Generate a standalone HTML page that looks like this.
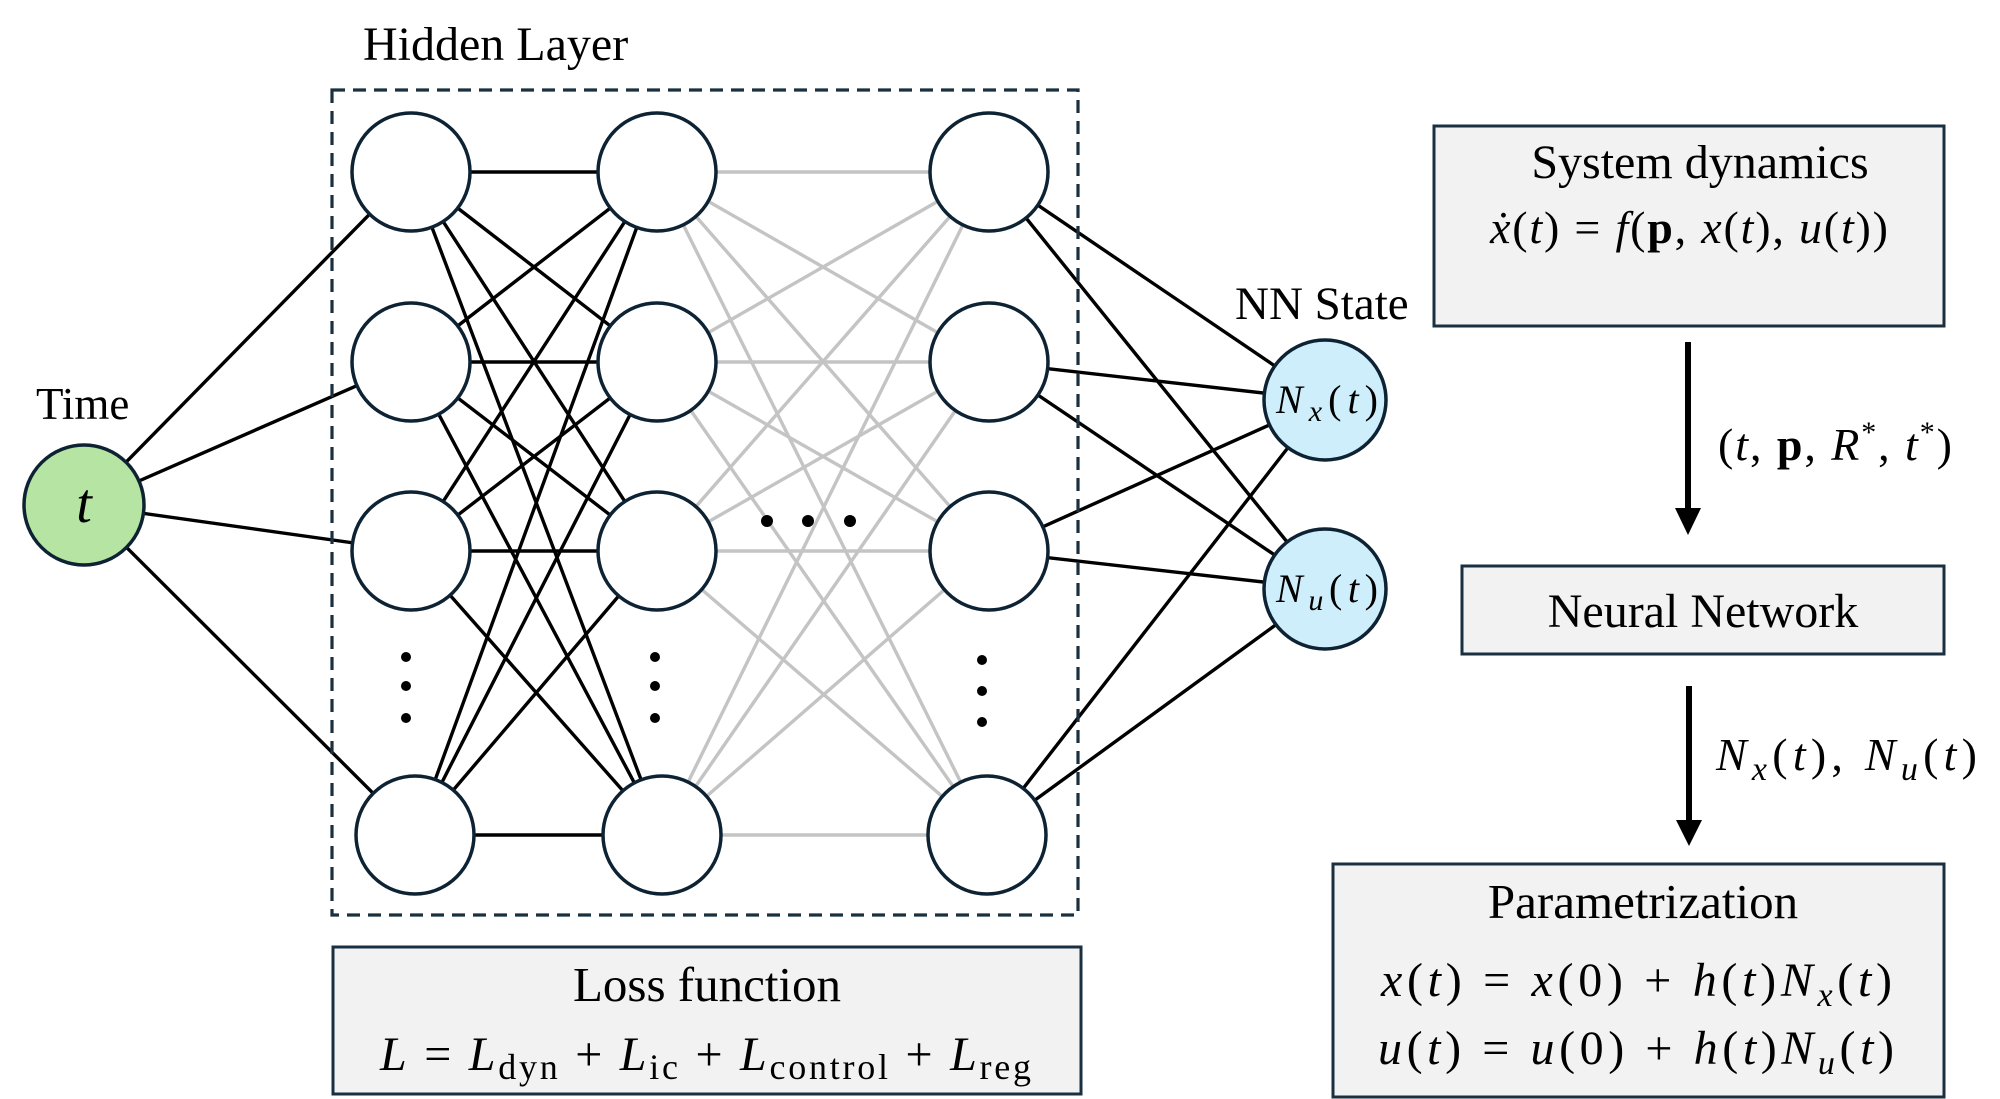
<!DOCTYPE html>
<html><head><meta charset="utf-8"><style>
html,body{margin:0;padding:0;background:#fff;}
svg{display:block;}
text{font-family:"Liberation Serif","DejaVu Serif",serif;fill:#000;}
.it{font-style:italic;}
</style></head><body>
<svg width="2000" height="1099" viewBox="0 0 2000 1099" xmlns="http://www.w3.org/2000/svg">
<g id="lines" stroke-width="3.4" stroke-linecap="round">
<g stroke="#000">
<line x1="84" y1="505" x2="411" y2="172"/><line x1="84" y1="505" x2="411" y2="362"/>
<line x1="84" y1="505" x2="411" y2="551"/><line x1="84" y1="505" x2="415" y2="835"/>
</g>
<g stroke="#000">
<line x1="411" y1="172" x2="657" y2="172"/><line x1="411" y1="172" x2="657" y2="362"/><line x1="411" y1="172" x2="657" y2="551"/><line x1="411" y1="172" x2="662" y2="835"/>
<line x1="411" y1="362" x2="657" y2="172"/><line x1="411" y1="362" x2="657" y2="362"/><line x1="411" y1="362" x2="657" y2="551"/><line x1="411" y1="362" x2="662" y2="835"/>
<line x1="411" y1="551" x2="657" y2="172"/><line x1="411" y1="551" x2="657" y2="362"/><line x1="411" y1="551" x2="657" y2="551"/><line x1="411" y1="551" x2="662" y2="835"/>
<line x1="415" y1="835" x2="657" y2="172"/><line x1="415" y1="835" x2="657" y2="362"/><line x1="415" y1="835" x2="657" y2="551"/><line x1="415" y1="835" x2="662" y2="835"/>
</g>
<g stroke="#c4c4c4">
<line x1="657" y1="172" x2="989" y2="172"/><line x1="657" y1="172" x2="989" y2="362"/><line x1="657" y1="172" x2="989" y2="551"/><line x1="657" y1="172" x2="987" y2="835"/>
<line x1="657" y1="362" x2="989" y2="172"/><line x1="657" y1="362" x2="989" y2="362"/><line x1="657" y1="362" x2="989" y2="551"/><line x1="657" y1="362" x2="987" y2="835"/>
<line x1="657" y1="551" x2="989" y2="172"/><line x1="657" y1="551" x2="989" y2="362"/><line x1="657" y1="551" x2="989" y2="551"/><line x1="657" y1="551" x2="987" y2="835"/>
<line x1="662" y1="835" x2="989" y2="172"/><line x1="662" y1="835" x2="989" y2="362"/><line x1="662" y1="835" x2="989" y2="551"/><line x1="662" y1="835" x2="987" y2="835"/>
</g>
<g stroke="#000">
<line x1="989" y1="172" x2="1325" y2="400"/><line x1="989" y1="172" x2="1325" y2="589"/>
<line x1="989" y1="362" x2="1325" y2="400"/><line x1="989" y1="362" x2="1325" y2="589"/>
<line x1="989" y1="551" x2="1325" y2="400"/><line x1="989" y1="551" x2="1325" y2="589"/>
<line x1="987" y1="835" x2="1325" y2="400"/><line x1="987" y1="835" x2="1325" y2="589"/>
</g>
</g>
<rect x="332" y="90" width="746" height="825" fill="none" stroke="#1a3040" stroke-width="3.2" stroke-dasharray="13,8"/>
<text x="363" y="60" font-size="48">Hidden Layer</text>
<g fill="#fff" stroke="#0d2233" stroke-width="3.5">
<circle cx="411" cy="172" r="59"/><circle cx="411" cy="362" r="59"/><circle cx="411" cy="551" r="59"/><circle cx="415" cy="835" r="59"/>
<circle cx="657" cy="172" r="59"/><circle cx="657" cy="362" r="59"/><circle cx="657" cy="551" r="59"/><circle cx="662" cy="835" r="59"/>
<circle cx="989" cy="172" r="59"/><circle cx="989" cy="362" r="59"/><circle cx="989" cy="551" r="59"/><circle cx="987" cy="835" r="59"/>
</g>
<circle cx="84" cy="505" r="60" fill="#b5e4a3" stroke="#0d2233" stroke-width="3.5"/>
<text x="84" y="522" font-size="56" class="it" text-anchor="middle">t</text>
<text x="36" y="419" font-size="45">Time</text>
<ellipse cx="1325" cy="400" rx="61" ry="60" fill="#cdeefa" stroke="#0d2233" stroke-width="3.5"/>
<ellipse cx="1325" cy="589" rx="61" ry="60" fill="#cdeefa" stroke="#0d2233" stroke-width="3.5"/>
<text x="1276" y="413" font-size="40" textLength="102" lengthAdjust="spacing"><tspan class="it">N</tspan><tspan class="it" font-size="30" dy="8">x</tspan><tspan dy="-8">(</tspan><tspan class="it">t</tspan>)</text>
<text x="1276" y="602" font-size="40" textLength="102" lengthAdjust="spacing"><tspan class="it">N</tspan><tspan class="it" font-size="30" dy="8">u</tspan><tspan dy="-8">(</tspan><tspan class="it">t</tspan>)</text>
<text x="1235" y="319" font-size="47">NN State</text>
<g fill="#000">
<circle cx="406" cy="657" r="5"/><circle cx="406" cy="686" r="5"/><circle cx="406" cy="718" r="5"/>
<circle cx="655" cy="657" r="5"/><circle cx="655" cy="686" r="5"/><circle cx="655" cy="718" r="5"/>
<circle cx="982" cy="660" r="5"/><circle cx="982" cy="691" r="5"/><circle cx="982" cy="722" r="5"/>
<circle cx="767" cy="521" r="6"/><circle cx="808" cy="521" r="6"/><circle cx="850" cy="521" r="6"/>
</g>
<rect x="333" y="947" width="748" height="147" fill="#f2f2f2" stroke="#1a3040" stroke-width="3"/>
<text x="707" y="1001" font-size="49" text-anchor="middle">Loss function</text>
<text x="380" y="1070" font-size="48" textLength="651" lengthAdjust="spacing"><tspan class="it">L</tspan> = <tspan class="it">L</tspan><tspan font-size="36" dy="9">dyn</tspan><tspan dy="-9"> + </tspan><tspan class="it">L</tspan><tspan font-size="36" dy="9">ic</tspan><tspan dy="-9"> + </tspan><tspan class="it">L</tspan><tspan font-size="36" dy="9">control</tspan><tspan dy="-9"> + </tspan><tspan class="it">L</tspan><tspan font-size="36" dy="9">reg</tspan></text>
<rect x="1434" y="126" width="510" height="200" fill="#f2f2f2" stroke="#1a3040" stroke-width="3"/>
<text x="1700" y="178" font-size="48" text-anchor="middle">System dynamics</text>
<text x="1490" y="243" font-size="46" textLength="398" lengthAdjust="spacing"><tspan class="it">ẋ</tspan>(<tspan class="it">t</tspan>) = <tspan class="it">f</tspan>(<tspan font-weight="bold">p</tspan>, <tspan class="it">x</tspan>(<tspan class="it">t</tspan>), <tspan class="it">u</tspan>(<tspan class="it">t</tspan>))</text>
<line x1="1688" y1="342" x2="1688" y2="510" stroke="#000" stroke-width="6"/>
<polygon points="1675,508 1701,508 1688,535" fill="#000"/>
<text x="1718" y="460" font-size="46" textLength="234" lengthAdjust="spacing">(<tspan class="it">t</tspan>, <tspan font-weight="bold">p</tspan>, <tspan class="it">R</tspan><tspan font-size="30" dy="-18">*</tspan><tspan dy="18">, </tspan><tspan class="it">t</tspan><tspan font-size="30" dy="-18">*</tspan><tspan dy="18">)</tspan></text>
<rect x="1462" y="566" width="482" height="88" fill="#f2f2f2" stroke="#1a3040" stroke-width="3"/>
<text x="1703" y="627" font-size="48" text-anchor="middle">Neural Network</text>
<line x1="1689" y1="686" x2="1689" y2="822" stroke="#000" stroke-width="6"/>
<polygon points="1676,820 1702,820 1689,846" fill="#000"/>
<text x="1716" y="770" font-size="46" textLength="261" lengthAdjust="spacing"><tspan class="it">N</tspan><tspan class="it" font-size="34" dy="10">x</tspan><tspan dy="-10">(</tspan><tspan class="it">t</tspan>), <tspan class="it">N</tspan><tspan class="it" font-size="34" dy="10">u</tspan><tspan dy="-10">(</tspan><tspan class="it">t</tspan>)</text>
<rect x="1333" y="864" width="611" height="233" fill="#f2f2f2" stroke="#1a3040" stroke-width="3"/>
<text x="1643" y="918" font-size="49" text-anchor="middle">Parametrization</text>
<text x="1381" y="996" font-size="48" textLength="511" lengthAdjust="spacing"><tspan class="it">x</tspan>(<tspan class="it">t</tspan>) = <tspan class="it">x</tspan>(0) + <tspan class="it">h</tspan>(<tspan class="it">t</tspan>)<tspan class="it">N</tspan><tspan class="it" font-size="34" dy="10">x</tspan><tspan dy="-10">(</tspan><tspan class="it">t</tspan>)</text>
<text x="1378" y="1064" font-size="48" textLength="516" lengthAdjust="spacing"><tspan class="it">u</tspan>(<tspan class="it">t</tspan>) = <tspan class="it">u</tspan>(0) + <tspan class="it">h</tspan>(<tspan class="it">t</tspan>)<tspan class="it">N</tspan><tspan class="it" font-size="34" dy="10">u</tspan><tspan dy="-10">(</tspan><tspan class="it">t</tspan>)</text>
</svg>
</body></html>
